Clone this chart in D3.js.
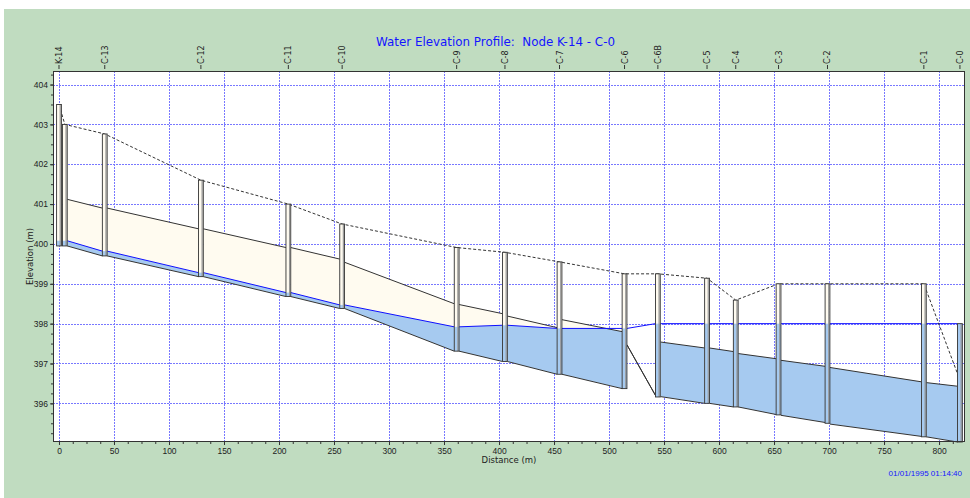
<!DOCTYPE html>
<html>
<head>
<meta charset="utf-8">
<script src="https://cdn.jsdelivr.net/npm/d3@7"></script>
<style>
  body { margin: 0; background: #fff; }
  svg { display: block; font-family: "DejaVu Sans", Verdana, sans-serif; }
  .tick text { fill: #222; font-size: 8.5px; }
  .tick line { stroke: #333; }
</style>
</head>
<body>
<div id="chart"></div>
<script>
// node data along the profile (distance in m, elevations in m)
var nodeNames  = ["K-14", "", "C-13", "C-12", "C-11", "C-10", "C-9", "C-8", "C-7", "C-6", "C-6B", "C-5", "C-4", "C-3", "C-2", "C-1", "C-0"];
var nodeDist   = [0, 5.3, 41.6, 129, 208.5, 257.4, 361.5, 405.4, 455, 514.1, 544.4, 589.1, 615.2, 654.1, 698.6, 786.2, 819];
var nodeInvert = [399.95, 399.95, 399.70, 399.18, 398.68, 398.38, 397.31, 397.05, 396.73, 396.37, 396.16, 396.0, 395.91, 395.71, 395.50, 395.16, 395.03];
var nodeRim    = [403.5, 403.0, 402.76, 401.6, 401.0, 400.5, 399.91, 399.79, 399.55, 399.25, 399.25, 399.14, 398.59, 399.0, 399.0, 399.0, 396.58];
var nodeHGL    = [400.08, 400.08, 399.82, 399.28, 398.78, 398.47, 397.92, 397.96, 397.88, 397.88, 398.0, 398.0, 398.0, 398.0, 398.0, 398.0, 398.0];

// conduits: upstream node index, inverts and crowns at both ends
var linkFrom    = [1, 2, 3, 4, 5, 6, 7, 8, 9, 10, 11, 12, 13, 14, 15];
var linkInvUp   = [399.95, 399.70, 399.18, 398.68, 398.38, 397.31, 397.05, 396.73, 397.47, 396.17, 396.0, 395.91, 395.70, 395.48, 395.16];
var linkInvDn   = [399.70, 399.18, 398.68, 398.38, 397.31, 397.05, 396.73, 396.37, 396.20, 396.0, 395.91, 395.72, 395.52, 395.17, 395.03];
var linkCrownUp = [401.12, 400.90, 400.38, 399.91, 399.54, 398.48, 398.19, 398.10, 397.47, 397.54, 397.39, 397.25, 397.08, 396.90, 396.52];
var linkCrownDn = [400.90, 400.38, 399.91, 399.62, 398.50, 398.25, 397.90, 397.80, 396.20, 397.39, 397.30, 397.12, 396.93, 396.54, 396.43];

var xTicks = d3.range(0, 801, 50);
var yTicks = [396, 397, 398, 399, 400, 401, 402, 403, 404];

var W = 970, H = 498;
var plot = {left: 53, right: 965, top: 71, bottom: 442};

var svg = d3.select("#chart").append("svg")
    .attr("width", W)
    .attr("height", H);

// background
svg.append("rect").attr("x", 4).attr("y", 9).attr("width", W - 4).attr("height", H - 9).attr("fill", "#c0dcc0");
svg.append("rect").attr("x", plot.left).attr("y", plot.top)
    .attr("width", plot.right - plot.left).attr("height", plot.bottom - plot.top)
    .attr("fill", "#fff");

var x = d3.scaleLinear().domain([-5.45, 823.6]).range([plot.left, plot.right]);
var y = d3.scaleLinear().domain([395.03, 404.34]).range([plot.bottom, plot.top]);

// grid
var grid = svg.append("g");
grid.selectAll(".vg").data(xTicks).enter().append("line")
    .attr("x1", d => Math.round(x(d)) + 0.5).attr("x2", d => Math.round(x(d)) + 0.5)
    .attr("y1", plot.top).attr("y2", plot.bottom)
    .attr("stroke", "#7878ff").attr("stroke-dasharray", "2,1");
grid.selectAll(".hg").data(yTicks).enter().append("line")
    .attr("y1", d => Math.round(y(d)) + 0.5).attr("y2", d => Math.round(y(d)) + 0.5)
    .attr("x1", plot.left).attr("x2", plot.right)
    .attr("stroke", "#7878ff").attr("stroke-dasharray", "2,1");

var halfW = 2.4;
var links = linkFrom.map((f, i) => {
    return {
        x1: x(nodeDist[f]) + halfW, x2: x(nodeDist[f + 1]) - halfW,
        invUp: linkInvUp[i], invDn: linkInvDn[i],
        crUp: linkCrownUp[i], crDn: linkCrownDn[i],
        wUp: nodeHGL[f], wDn: nodeHGL[f + 1]
    };
});

var defs = svg.append("defs");
var pipes = svg.append("g");
links.forEach((l, i) => {
    var poly = [[l.x1, y(l.crUp)], [l.x2, y(l.crDn)], [l.x2, y(l.invDn)], [l.x1, y(l.invUp)]];
    defs.append("clipPath").attr("id", "pipe" + i)
        .append("polygon").attr("points", poly.join(" "));
    pipes.append("polygon").attr("points", poly.join(" ")).attr("fill", "#fffbf0");
    var water = [[l.x1, y(l.wUp)], [l.x2, y(l.wDn)], [l.x2, y(l.invDn)], [l.x1, y(l.invUp)]];
    pipes.append("polygon").attr("points", water.join(" "))
        .attr("fill", "#a6caf0").attr("clip-path", "url(#pipe" + i + ")");
});
links.forEach(l => {
    pipes.append("line").attr("x1", l.x1).attr("x2", l.x2)
        .attr("y1", y(l.crUp)).attr("y2", y(l.crDn)).attr("stroke", "#333");
    pipes.append("line").attr("x1", l.x1).attr("x2", l.x2)
        .attr("y1", y(l.invUp)).attr("y2", y(l.invDn)).attr("stroke", "#333");
    pipes.append("line").attr("x1", l.x1).attr("x2", l.x2)
        .attr("y1", y(l.wUp)).attr("y2", y(l.wDn)).attr("stroke", "#1010ff");
});

// ground line
var ground = d3.line().x(d => x(d[0])).y(d => y(d[1]));
svg.append("path")
    .attr("d", ground(nodeDist.map((d, i) => [d, nodeRim[i]])))
    .attr("fill", "none").attr("stroke", "#333").attr("stroke-dasharray", "3,2");

// manholes
var mh = svg.append("g").selectAll("g").data(nodeDist).enter().append("g");
mh.append("rect")
    .attr("x", d => x(d) - halfW).attr("width", halfW * 2)
    .attr("y", (d, i) => y(Math.max(nodeRim[i], nodeHGL[i])))
    .attr("height", (d, i) => y(nodeInvert[i]) - y(Math.max(nodeRim[i], nodeHGL[i])))
    .attr("fill", "#fffbf0");
mh.append("rect")
    .attr("x", d => x(d) - halfW).attr("width", halfW * 2)
    .attr("y", (d, i) => y(nodeHGL[i]))
    .attr("height", (d, i) => y(nodeInvert[i]) - y(nodeHGL[i]))
    .attr("fill", "#a6caf0");
mh.append("line")
    .attr("x1", d => x(d) + halfW - 1.2).attr("x2", d => x(d) + halfW - 1.2)
    .attr("y1", (d, i) => y(Math.max(nodeRim[i], nodeHGL[i])))
    .attr("y2", (d, i) => y(nodeInvert[i]))
    .attr("stroke", "#999").attr("stroke-width", 1.2);
mh.append("rect")
    .attr("x", d => x(d) - halfW).attr("width", halfW * 2)
    .attr("y", (d, i) => y(Math.max(nodeRim[i], nodeHGL[i])))
    .attr("height", (d, i) => y(nodeInvert[i]) - y(Math.max(nodeRim[i], nodeHGL[i])))
    .attr("fill", "none").attr("stroke", "#333").attr("stroke-width", 0.9);

// node labels at top
var lab = svg.append("g").selectAll("g").data(nodeNames.map((n, i) => ({n: n, d: nodeDist[i]})).filter(o => o.n))
    .enter().append("g");
lab.append("line")
    .attr("x1", o => x(o.d)).attr("x2", o => x(o.d))
    .attr("y1", 65).attr("y2", 69).attr("stroke", "#333");
lab.append("text")
    .attr("transform", o => "translate(" + (x(o.d) + 3) + ",64) rotate(-90)")
    .attr("font-size", 8).attr("fill", "#222")
    .text(o => o.n);

// axes
var yAxis = svg.append("g").attr("transform", "translate(" + plot.left + ",0)")
    .call(d3.axisLeft(y).tickValues(yTicks).tickSize(3).tickPadding(2).tickSizeOuter(0).tickFormat(d3.format("d")));
yAxis.select(".domain").remove();
svg.append("g").attr("transform", "translate(" + plot.left + ",0)")
    .call(d3.axisLeft(y).tickValues(d3.range(395.25, 404.3, 0.25)).tickSize(2).tickFormat(""))
    .select(".domain").remove();

var xAxis = svg.append("g").attr("transform", "translate(0," + plot.bottom + ")")
    .call(d3.axisBottom(x).tickValues(xTicks).tickSize(3).tickPadding(3).tickSizeOuter(0));
xAxis.select(".domain").remove();
svg.append("g").attr("transform", "translate(0," + plot.bottom + ")")
    .call(d3.axisBottom(x).tickValues(d3.range(0, 823, 12.5)).tickSize(2).tickFormat(""))
    .select(".domain").remove();

// frame
svg.append("rect").attr("x", plot.left + 0.5).attr("y", plot.top + 0.5)
    .attr("width", plot.right - plot.left - 1).attr("height", plot.bottom - plot.top - 1)
    .attr("fill", "none").attr("stroke", "#333");

// titles
svg.append("text").attr("x", 495.5).attr("y", 46).attr("text-anchor", "middle")
    .attr("font-size", 12.5).attr("fill", "#1414ff")
    .style("white-space", "pre")
    .attr("textLength", 239).attr("lengthAdjust", "spacingAndGlyphs")
    .text("Water Elevation Profile:  Node K-14 - C-0");
svg.append("text").attr("x", (plot.left + plot.right) / 2).attr("y", 463).attr("text-anchor", "middle")
    .attr("font-size", 8.5).attr("fill", "#222").text("Distance (m)");
svg.append("text").attr("transform", "translate(33," + ((plot.top + plot.bottom) / 2) + ") rotate(-90)")
    .attr("text-anchor", "middle").attr("font-size", 8.5).attr("fill", "#222").text("Elevation (m)");
svg.append("text").attr("x", 962).attr("y", 476).attr("text-anchor", "end")
    .attr("font-family", "'Liberation Sans', Arial, sans-serif")
    .attr("font-size", 8).attr("fill", "#1414ff")
    .text("01/01/1995 01:14:40");
</script>
</body>
</html>
